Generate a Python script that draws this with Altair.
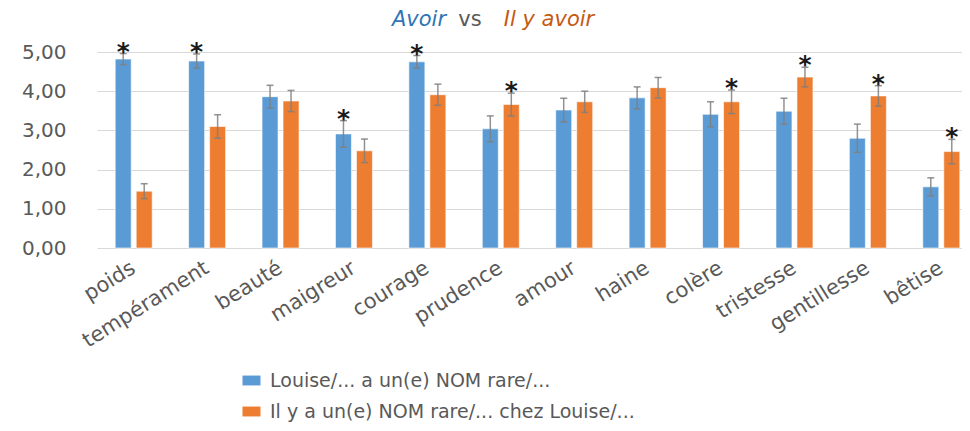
import altair as alt
import pandas as pd

categories = ["poids", "tempérament", "beauté", "maigreur", "courage", "prudence",
              "amour", "haine", "colère", "tristesse", "gentillesse", "bêtise"]
series_names = ["Louise/... a un(e) NOM rare/...",
                "Il y a un(e) NOM rare/... chez Louise/..."]

avoir_means = [4.82, 4.77, 3.86, 2.91, 4.75, 3.04, 3.52, 3.83, 3.41, 3.49, 2.80, 1.56]
avoir_errs = [0.14, 0.18, 0.29, 0.34, 0.16, 0.33, 0.30, 0.28, 0.32, 0.33, 0.36, 0.23]
ilya_means = [1.45, 3.10, 3.75, 2.48, 3.91, 3.66, 3.73, 4.09, 3.73, 4.36, 3.88, 2.46]
ilya_errs = [0.19, 0.30, 0.27, 0.30, 0.27, 0.29, 0.27, 0.26, 0.30, 0.25, 0.26, 0.31]
avoir_sig = [1, 1, 0, 1, 1, 0, 0, 0, 0, 0, 0, 0]
ilya_sig = [0, 0, 0, 0, 0, 1, 0, 0, 1, 1, 1, 1]
y_ticks = [0, 1, 2, 3, 4, 5]

colors = ["#5b9bd5", "#ed7d31"]

rows = []
for i, c in enumerate(categories):
    rows.append(dict(cat=c, series=series_names[0], mean=avoir_means[i],
                     err=avoir_errs[i], sig=avoir_sig[i]))
    rows.append(dict(cat=c, series=series_names[1], mean=ilya_means[i],
                     err=ilya_errs[i], sig=ilya_sig[i]))
df = pd.DataFrame(rows)
df["lo"] = df["mean"] - df["err"]
df["hi"] = df["mean"] + df["err"]

FONT = "DejaVu Sans"
GREY = "#595959"

x = alt.X("cat:N", sort=categories, title=None,
          scale=alt.Scale(range=[0, 881], paddingInner=0, paddingOuter=0),
          axis=alt.Axis(labelAngle=-32, labelAlign="right", labelBaseline="middle",
                        labelPadding=18, labelFontSize=21, labelFont=FONT,
                        labelColor=GREY, domain=False, ticks=False, tickSize=0,
                        labelLimit=300, labelOverlap=False))
xo = alt.XOffset("series:N", sort=series_names,
                 scale=alt.Scale(paddingInner=0.238, paddingOuter=0.867))
yscale = alt.Scale(domain=[0, 5], nice=False, zero=True)
yaxis = alt.Axis(values=y_ticks, tickCount=6,
                 labelExpr="replace(format(datum.value, '.2f'), '.', ',')",
                 grid=True, gridColor="#d9d9d9", gridWidth=1.2, labelOverlap=False,
                 domain=False, ticks=False, tickSize=0, labelPadding=31,
                 labelFontSize=20, labelFont=FONT, labelColor=GREY)

base = alt.Chart(df)

bars = base.mark_bar(stroke="white", strokeWidth=0.6).encode(
    x=x, xOffset=xo,
    y=alt.Y("mean:Q", scale=yscale, title=None, axis=yaxis),
    color=alt.Color("series:N", sort=series_names,
                    scale=alt.Scale(domain=series_names, range=colors),
                    legend=alt.Legend(title=None, orient="none", legendX=145, legendY=319,
                                      direction="vertical", padding=0,
                                      symbolType="M-1,-0.55H1V0.55H-1Z",
                                      symbolSize=324, symbolStrokeWidth=0,
                                      labelFontSize=19, labelFont=FONT,
                                      labelColor=GREY, labelOffset=9,
                                      rowPadding=11, labelLimit=700)),
)

err_rule = base.mark_rule(color="#7f7f7f", strokeWidth=1.5, opacity=0.85).encode(
    x=x, xOffset=xo, y=alt.Y("lo:Q", scale=yscale, title=None, axis=yaxis), y2="hi:Q")
cap_lo = base.mark_tick(color="#7f7f7f", size=7, thickness=1.5, opacity=0.85).encode(
    x=x, xOffset=xo, y=alt.Y("lo:Q", scale=yscale, title=None, axis=yaxis))
cap_hi = base.mark_tick(color="#7f7f7f", size=7, thickness=1.5, opacity=0.85).encode(
    x=x, xOffset=xo, y=alt.Y("hi:Q", scale=yscale, title=None, axis=yaxis))

stars = base.transform_filter("datum.sig == 1").mark_text(
    text="*", fontSize=25, fontWeight="bold", font=FONT, color="#1a1a1a",
    baseline="alphabetic", dy=6).encode(
    x=x, xOffset=xo, y=alt.Y("hi:Q", scale=yscale, title=None, axis=yaxis))

title_a = alt.Chart(pd.DataFrame({"t": ["Avoir"]})).mark_text(
    font=FONT, fontSize=21, fontStyle="italic", color="#2e75b6", align="center",
    baseline="alphabetic").encode(text="t:N", x=alt.value(322), y=alt.value(-26))
title_vs = alt.Chart(pd.DataFrame({"t": ["vs"]})).mark_text(
    font=FONT, fontSize=21, color=GREY, align="center",
    baseline="alphabetic").encode(text="t:N", x=alt.value(373), y=alt.value(-26))
title_b = alt.Chart(pd.DataFrame({"t": ["Il y avoir"]})).mark_text(
    font=FONT, fontSize=21, fontStyle="italic", color="#c55a11", align="center",
    baseline="alphabetic").encode(text="t:N", x=alt.value(452), y=alt.value(-26))

chart = alt.layer(bars, err_rule, cap_lo, cap_hi, stars, title_a, title_vs, title_b).properties(
    width=865, height=196,
    autosize=alt.AutoSizeParams(type="none"),
    padding={"left": 89, "top": 44, "right": 0, "bottom": 175},
    background="white",
).configure_view(stroke=None)

chart.save("out.html", embed_options={"renderer": "svg", "actions": False})
